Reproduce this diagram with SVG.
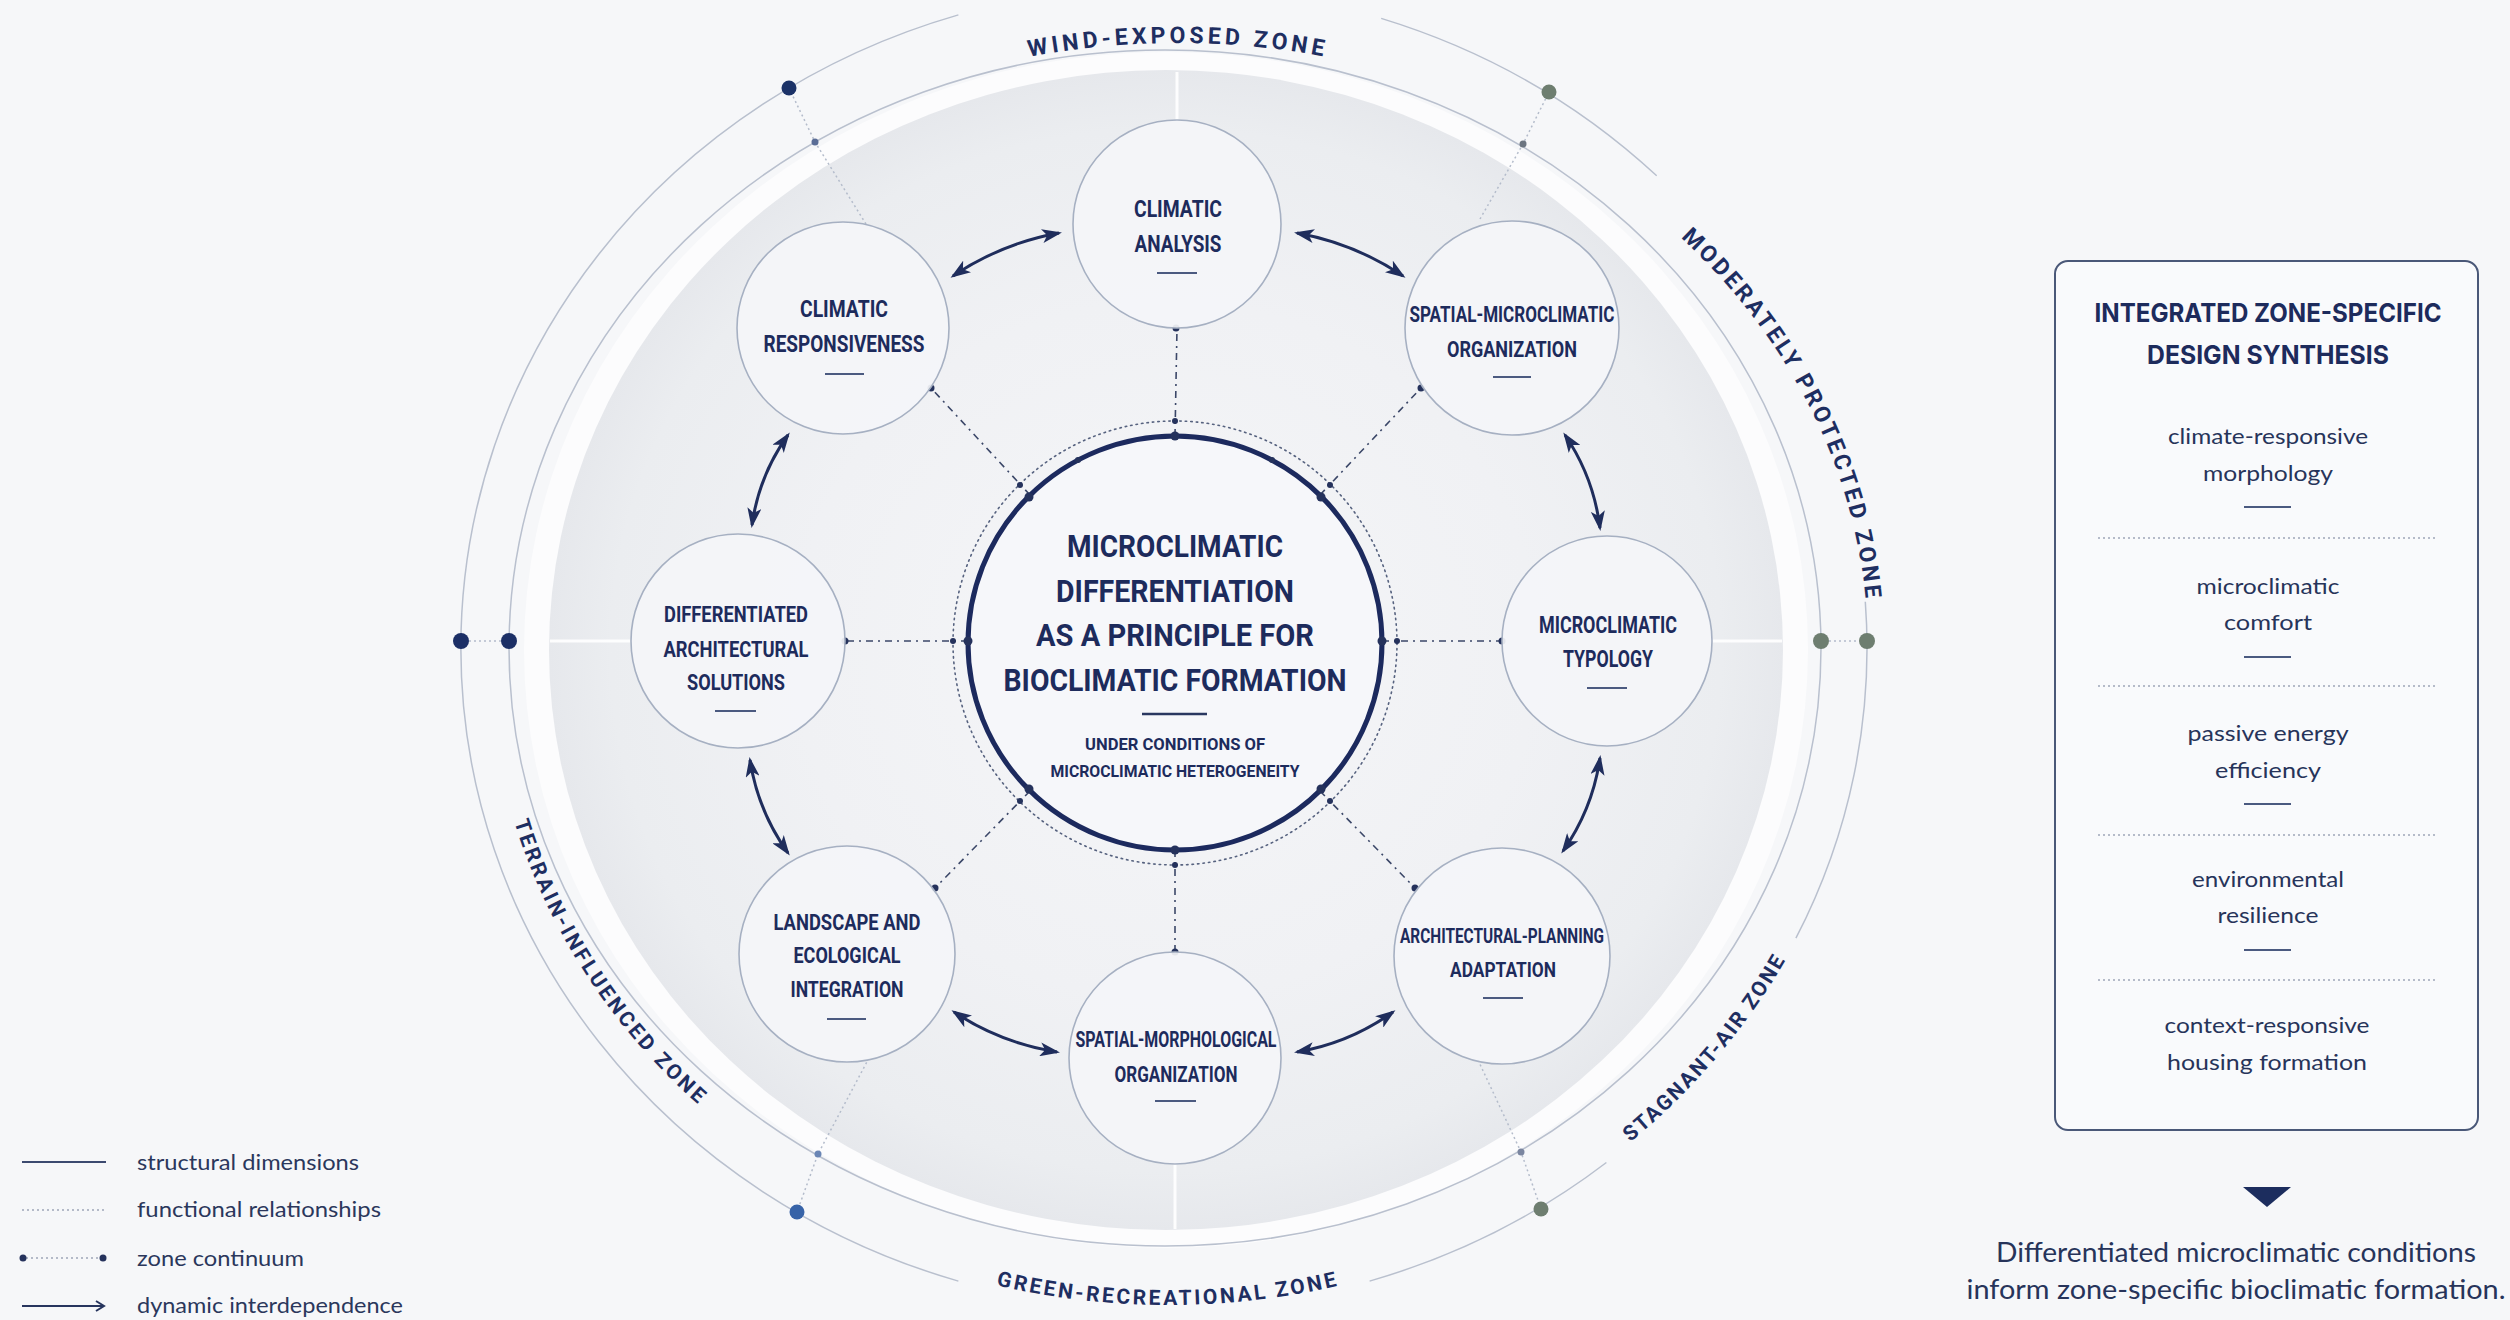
<svg xmlns="http://www.w3.org/2000/svg" width="2510" height="1320" viewBox="0 0 2510 1320">
<defs>
<radialGradient id="disk" cx="50%" cy="50%" r="50%">
<stop offset="0" stop-color="#f5f6f8"/>
<stop offset="0.6" stop-color="#f0f1f4"/>
<stop offset="0.9" stop-color="#ebedf0"/>
<stop offset="1" stop-color="#e6e8ec"/>
</radialGradient>
<marker id="ah" viewBox="0 0 20 14" refX="17" refY="7" markerWidth="20" markerHeight="14" markerUnits="userSpaceOnUse" orient="auto-start-reverse">
<path d="M0,0 L20,7 L0,14 L5,7 Z" fill="#1f2d5c"/>
</marker>
<marker id="chev" viewBox="0 0 12 12" refX="10" refY="6" markerWidth="12" markerHeight="12" markerUnits="userSpaceOnUse" orient="auto">
<path d="M2,1 L10,6 L2,11" fill="none" stroke="#27355e" stroke-width="2"/>
</marker>
<path id="pWind" d="M573.5 346 A698 606 0 0 1 1782.5 346"/>
<path id="pMod" d="M1539.9 137.5 A698 602 0 0 1 1852.7 773.2"/>
<path id="pStag" d="M1428.5 1258.1 A706 658 0 0 0 1863.1 739.6"/>
<path id="pGreen" d="M714.2 1151.3 A706 657 0 0 0 1621.8 1151.3"/>
<path id="pTerr" d="M488.1 659 A676 630 0 0 0 836.3 1199"/>
</defs>
<style>
.nl{font-family:Roboto,'Liberation Sans',sans-serif;font-weight:700;fill:#1d2b5c;text-anchor:middle}
.node circle{fill:#f4f5f8;fill-opacity:0.92;stroke:#a6b0c2;stroke-width:1.6}
.dash{stroke:#4b5a80;stroke-width:2}
.zone{font-family:Roboto,'Liberation Sans',sans-serif;font-weight:700;fill:#1e2e61;text-anchor:middle}
.arrow{fill:none;stroke:#1f2d5c;stroke-width:3;marker-start:url(#ah);marker-end:url(#ah)}
.cont{stroke:#3b4768;stroke-width:1.6;stroke-dasharray:7 5 2 5;fill:none}
.func{stroke:#b4bccb;stroke-width:1.5;stroke-dasharray:2 3;fill:none}
.ring{fill:none;stroke:#b9c0ce;stroke-width:1.5}
.white{stroke:#ffffff;stroke-width:3;stroke-opacity:0.9}
.cdot{fill:#25325c}
.item{font-family:Lato,'Noto Sans',sans-serif;font-size:22px;fill:#27345a;text-anchor:middle}
.sep{stroke:#9ea7b8;stroke-width:1.5;stroke-dasharray:2 3}
.leg{font-family:Lato,'Noto Sans',sans-serif;font-size:21px;fill:#2b375c}
</style>
<rect width="2510" height="1320" fill="#f6f7f9"/>

<g id="rings">
<ellipse cx="1166" cy="650" rx="642" ry="598" fill="#fcfcfd"/>
<ellipse cx="1166" cy="650" rx="617" ry="580" fill="url(#disk)"/>
<ellipse class="ring" cx="1165" cy="648" rx="656" ry="598"/>
<path class="ring" d="M958.4 1281.1 A703 662 0 0 1 958.4 14.9"/>
<path class="ring" d="M1381.2 18.4 A703 662 0 0 1 1656.7 175.8"/>
<path class="ring" d="M1865.3 601.8 A703 662 0 0 1 1795.9 938.2"/>
<path class="ring" d="M1606.4 1162.5 A703 662 0 0 1 1369.6 1281.1"/>
<line class="white" x1="1177" y1="72" x2="1177" y2="120"/>
<line class="white" x1="1175" y1="1164" x2="1175" y2="1229"/>
<line class="white" x1="550" y1="641" x2="631" y2="641"/>
<line class="white" x1="1712" y1="641" x2="1782" y2="641"/>
</g>

<g id="zone-labels">
<text class="zone" font-size="23" letter-spacing="4"><textPath href="#pWind" startOffset="50%">WIND-EXPOSED ZONE</textPath></text>
<text class="zone" font-size="23" letter-spacing="3"><textPath href="#pMod" startOffset="50%">MODERATELY PROTECTED ZONE</textPath></text>
<text class="zone" font-size="21" letter-spacing="2"><textPath href="#pStag" startOffset="50%">STAGNANT-AIR ZONE</textPath></text>
<text class="zone" font-size="21" letter-spacing="2.7"><textPath href="#pGreen" startOffset="50%">GREEN-RECREATIONAL ZONE</textPath></text>
<text class="zone" font-size="21" letter-spacing="2.9"><textPath href="#pTerr" startOffset="50%">TERRAIN-INFLUENCED ZONE</textPath></text>
</g>

<g id="connectors">
<line class="func" x1="469" y1="641" x2="501" y2="641"/>
<line class="func" x1="1829" y1="641" x2="1859" y2="641"/>
<circle cx="461" cy="641" r="8" fill="#1c2f66"/>
<circle cx="509" cy="641" r="8" fill="#1c2f66"/>
<circle cx="1821" cy="641" r="8" fill="#6e7e70"/>
<circle cx="1867" cy="641" r="8" fill="#6e7e70"/>
<polyline class="func" points="866,224 815,142 789,88"/>
<polyline class="func" points="1480,219 1523,144 1549,92"/>
<polyline class="func" points="869,1058 818,1154 797,1212"/>
<polyline class="func" points="1478,1060 1521,1152 1541,1209"/>
<circle cx="789" cy="88" r="7.5" fill="#1c3368"/>
<circle cx="1549" cy="92" r="7.5" fill="#6e7e70"/>
<circle cx="797" cy="1212" r="7.5" fill="#3763a8"/>
<circle cx="1541" cy="1209" r="7.5" fill="#6e7e70"/>
<circle cx="815" cy="142" r="3.5" fill="#5a6d96"/>
<circle cx="1523" cy="144" r="3.5" fill="#6b7480"/>
<circle cx="818" cy="1154" r="3.5" fill="#6a86b5"/>
<circle cx="1521" cy="1152" r="3.5" fill="#7b86a0"/>
<circle cx="1175" cy="643" r="222" fill="none" stroke="#56627f" stroke-width="1.6" stroke-dasharray="1.5 4" stroke-linecap="round"/>
<line class="cont" x1="1175" y1="436" x2="1177" y2="328"/>
<line class="cont" x1="1175" y1="850" x2="1175" y2="952"/>
<line class="cont" x1="968" y1="641" x2="845" y2="641"/>
<line class="cont" x1="1382" y1="641" x2="1502" y2="641"/>
<line class="cont" x1="1320" y1="495" x2="1421" y2="388"/>
<line class="cont" x1="1030" y1="495" x2="931" y2="388"/>
<line class="cont" x1="1320" y1="791" x2="1415" y2="888"/>
<line class="cont" x1="1030" y1="791" x2="935" y2="888"/>
<g class="cdot">
<circle cx="1176" cy="328" r="3.5"/><circle cx="1175" cy="952" r="3.5"/>
<circle cx="845" cy="641" r="3.5"/><circle cx="1502" cy="641" r="3.5"/>
<circle cx="1421" cy="388" r="3.5"/><circle cx="931" cy="388" r="3.5"/>
<circle cx="1415" cy="888" r="3.5"/><circle cx="935" cy="888" r="3.5"/>
<circle cx="1175" cy="421" r="3"/><circle cx="1175" cy="865" r="3"/>
<circle cx="953" cy="641" r="3"/><circle cx="1397" cy="641" r="3"/>
<circle cx="1330" cy="485" r="3"/><circle cx="1020" cy="485" r="3"/>
<circle cx="1330" cy="801" r="3"/><circle cx="1020" cy="801" r="3"/>
</g>
<path class="arrow" d="M953 276 Q1001 243.5 1059 233"/>
<path class="arrow" d="M1297 233 Q1355 243.5 1403 276"/>
<path class="arrow" d="M1565 435 Q1593.6 477 1600 528"/>
<path class="arrow" d="M1600 758 Q1592.6 809 1563 851"/>
<path class="arrow" d="M1393 1012 Q1349.8 1043 1297 1052"/>
<path class="arrow" d="M1057 1052 Q1000.7 1043 954 1012"/>
<path class="arrow" d="M788 853 Q757.9 811 750 760"/>
<path class="arrow" d="M752 525 Q758.9 475.5 788 435"/>
</g>

<g id="node-center">
<circle cx="1175" cy="643" r="207" fill="#f6f7fa" stroke="#1c2a5e" stroke-width="5"/>
<g class="cdot">
<circle cx="1175" cy="436" r="4.5"/><circle cx="1175" cy="850" r="4.5"/>
<circle cx="968" cy="641" r="4.5"/><circle cx="1382" cy="641" r="4.5"/>
<circle cx="1321" cy="497" r="4.5"/><circle cx="1029" cy="497" r="4.5"/>
<circle cx="1321" cy="789" r="4.5"/><circle cx="1029" cy="789" r="4.5"/>
<circle cx="1078" cy="460" r="3"/><circle cx="1272" cy="460" r="3"/>
</g>
<text class="nl" font-size="32" x="1175" y="557" textLength="216" lengthAdjust="spacingAndGlyphs">MICROCLIMATIC</text>
<text class="nl" font-size="32" x="1175" y="602" textLength="238" lengthAdjust="spacingAndGlyphs">DIFFERENTIATION</text>
<text class="nl" font-size="32" x="1175" y="646" textLength="278" lengthAdjust="spacingAndGlyphs">AS A PRINCIPLE FOR</text>
<text class="nl" font-size="32" x="1175" y="691" textLength="343" lengthAdjust="spacingAndGlyphs">BIOCLIMATIC FORMATION</text>
<line x1="1142" y1="714" x2="1207" y2="714" stroke="#2a3860" stroke-width="2.5"/>
<text class="nl" font-size="17" x="1175" y="750" textLength="180" lengthAdjust="spacingAndGlyphs">UNDER CONDITIONS OF</text>
<text class="nl" font-size="17" x="1175" y="777" textLength="249" lengthAdjust="spacingAndGlyphs">MICROCLIMATIC HETEROGENEITY</text>
</g>

<g id="node-climatic-analysis" class="node">
<circle cx="1177" cy="224" r="104"/>
<text class="nl" font-size="24" x="1178" y="217" textLength="88" lengthAdjust="spacingAndGlyphs">CLIMATIC</text>
<text class="nl" font-size="24" x="1178" y="252" textLength="87" lengthAdjust="spacingAndGlyphs">ANALYSIS</text>
<line class="dash" x1="1157" y1="273" x2="1197" y2="273"/>
</g>

<g id="node-spatial-microclimatic" class="node">
<circle cx="1512" cy="328" r="107"/>
<text class="nl" font-size="22" x="1512" y="322" textLength="205" lengthAdjust="spacingAndGlyphs">SPATIAL-MICROCLIMATIC</text>
<text class="nl" font-size="22" x="1512" y="357" textLength="130" lengthAdjust="spacingAndGlyphs">ORGANIZATION</text>
<line class="dash" x1="1493" y1="377" x2="1531" y2="377"/>
</g>

<g id="node-microclimatic-typology" class="node">
<circle cx="1607" cy="641" r="105"/>
<text class="nl" font-size="23" x="1608" y="633" textLength="138" lengthAdjust="spacingAndGlyphs">MICROCLIMATIC</text>
<text class="nl" font-size="23" x="1608" y="667" textLength="90" lengthAdjust="spacingAndGlyphs">TYPOLOGY</text>
<line class="dash" x1="1587" y1="688" x2="1627" y2="688"/>
</g>

<g id="node-architectural-planning" class="node">
<circle cx="1502" cy="956" r="108"/>
<text class="nl" font-size="21" x="1502" y="943" textLength="204" lengthAdjust="spacingAndGlyphs">ARCHITECTURAL-PLANNING</text>
<text class="nl" font-size="21" x="1503" y="977" textLength="106" lengthAdjust="spacingAndGlyphs">ADAPTATION</text>
<line class="dash" x1="1483" y1="998" x2="1523" y2="998"/>
</g>

<g id="node-spatial-morphological" class="node">
<circle cx="1175" cy="1058" r="106"/>
<text class="nl" font-size="22" x="1176" y="1047" textLength="201" lengthAdjust="spacingAndGlyphs">SPATIAL-MORPHOLOGICAL</text>
<text class="nl" font-size="22" x="1176" y="1082" textLength="123" lengthAdjust="spacingAndGlyphs">ORGANIZATION</text>
<line class="dash" x1="1155" y1="1101" x2="1196" y2="1101"/>
</g>

<g id="node-landscape" class="node">
<circle cx="847" cy="954" r="108"/>
<text class="nl" font-size="22" x="847" y="930" textLength="147" lengthAdjust="spacingAndGlyphs">LANDSCAPE AND</text>
<text class="nl" font-size="22" x="847" y="963" textLength="107" lengthAdjust="spacingAndGlyphs">ECOLOGICAL</text>
<text class="nl" font-size="22" x="847" y="997" textLength="113" lengthAdjust="spacingAndGlyphs">INTEGRATION</text>
<line class="dash" x1="827" y1="1019" x2="866" y2="1019"/>
</g>

<g id="node-differentiated" class="node">
<circle cx="738" cy="641" r="107"/>
<text class="nl" font-size="22" x="736" y="622" textLength="144" lengthAdjust="spacingAndGlyphs">DIFFERENTIATED</text>
<text class="nl" font-size="22" x="736" y="657" textLength="145" lengthAdjust="spacingAndGlyphs">ARCHITECTURAL</text>
<text class="nl" font-size="22" x="736" y="690" textLength="98" lengthAdjust="spacingAndGlyphs">SOLUTIONS</text>
<line class="dash" x1="715" y1="711" x2="756" y2="711"/>
</g>

<g id="node-climatic-responsiveness" class="node">
<circle cx="843" cy="328" r="106"/>
<text class="nl" font-size="24" x="844" y="317" textLength="88" lengthAdjust="spacingAndGlyphs">CLIMATIC</text>
<text class="nl" font-size="24" x="844" y="352" textLength="161" lengthAdjust="spacingAndGlyphs">RESPONSIVENESS</text>
<line class="dash" x1="825" y1="374" x2="864" y2="374"/>
</g>

<g id="node-synthesis">
<rect x="2055" y="261" width="423" height="869" rx="13" fill="#f9fafc" stroke="#4a5878" stroke-width="2"/>
<text class="nl" font-size="26" x="2268" y="322" textLength="347" lengthAdjust="spacingAndGlyphs" style="font-family:Inter,'Noto Sans',sans-serif">INTEGRATED ZONE-SPECIFIC</text>
<text class="nl" font-size="26" x="2268" y="364" textLength="242" lengthAdjust="spacingAndGlyphs" style="font-family:Inter,'Noto Sans',sans-serif">DESIGN SYNTHESIS</text>
<text class="item" x="2268" y="444" textLength="200" lengthAdjust="spacingAndGlyphs">climate-responsive</text>
<text class="item" x="2268" y="481" textLength="130" lengthAdjust="spacingAndGlyphs">morphology</text>
<line class="dash" x1="2244" y1="507" x2="2291" y2="507"/>
<line class="sep" x1="2098" y1="538" x2="2437" y2="538"/>
<text class="item" x="2268" y="594" textLength="143" lengthAdjust="spacingAndGlyphs">microclimatic</text>
<text class="item" x="2268" y="630" textLength="88" lengthAdjust="spacingAndGlyphs">comfort</text>
<line class="dash" x1="2244" y1="657" x2="2291" y2="657"/>
<line class="sep" x1="2098" y1="686" x2="2437" y2="686"/>
<text class="item" x="2268" y="741" textLength="161" lengthAdjust="spacingAndGlyphs">passive energy</text>
<text class="item" x="2268" y="778" textLength="106" lengthAdjust="spacingAndGlyphs">efficiency</text>
<line class="dash" x1="2244" y1="804" x2="2291" y2="804"/>
<line class="sep" x1="2098" y1="835" x2="2437" y2="835"/>
<text class="item" x="2268" y="887" textLength="152" lengthAdjust="spacingAndGlyphs">environmental</text>
<text class="item" x="2268" y="923" textLength="101" lengthAdjust="spacingAndGlyphs">resilience</text>
<line class="dash" x1="2244" y1="950" x2="2291" y2="950"/>
<line class="sep" x1="2098" y1="980" x2="2437" y2="980"/>
<text class="item" x="2267" y="1033" textLength="205" lengthAdjust="spacingAndGlyphs">context-responsive</text>
<text class="item" x="2267" y="1070" textLength="200" lengthAdjust="spacingAndGlyphs">housing formation</text>
</g>

<g id="conclusion">
<path d="M2243 1187 L2291 1187 L2267 1207 Z" fill="#1c2d5e"/>
<text class="item" style="font-size:26px" x="2236" y="1262" textLength="480" lengthAdjust="spacingAndGlyphs">Differentiated microclimatic conditions</text>
<text class="item" style="font-size:26px" x="2236" y="1299" textLength="539" lengthAdjust="spacingAndGlyphs">inform zone-specific bioclimatic formation.</text>
</g>

<g id="legend">
<line x1="22" y1="1162" x2="106" y2="1162" stroke="#3c4a70" stroke-width="2"/>
<text class="leg" x="137" y="1170" textLength="222" lengthAdjust="spacingAndGlyphs">structural dimensions</text>
<line class="sep" x1="22" y1="1210" x2="107" y2="1210"/>
<text class="leg" x="137" y="1217" textLength="244" lengthAdjust="spacingAndGlyphs">functional relationships</text>
<line class="sep" x1="26" y1="1258" x2="100" y2="1258"/>
<circle cx="23" cy="1258" r="3.5" fill="#25325c"/>
<circle cx="103" cy="1258" r="3.5" fill="#25325c"/>
<text class="leg" x="137" y="1266" textLength="167" lengthAdjust="spacingAndGlyphs">zone continuum</text>
<line x1="22" y1="1306" x2="104" y2="1306" stroke="#27355e" stroke-width="2" marker-end="url(#chev)"/>
<text class="leg" x="137" y="1313" textLength="266" lengthAdjust="spacingAndGlyphs">dynamic interdependence</text>
</g>
</svg>
